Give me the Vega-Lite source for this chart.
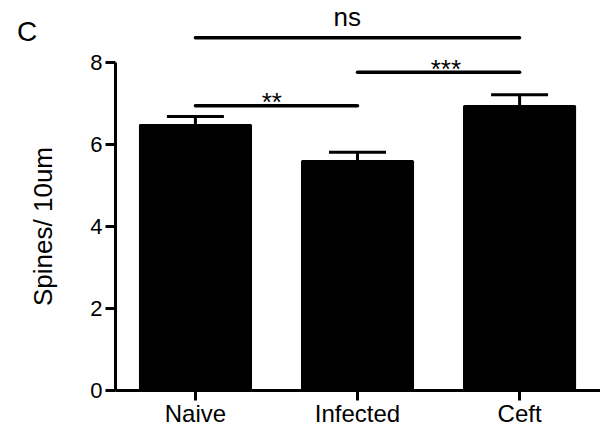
{
  "$schema": "https://vega.github.io/schema/vega-lite/v6.json",
  "width": 485,
  "height": 328,
  "autosize": "none",
  "padding": {"left": 115, "top": 62, "right": 0, "bottom": 43},
  "background": "white",
  "title": {"text": "C", "anchor": "start", "frame": "group", "dx": -98, "dy": 27, "fontSize": 28, "fontWeight": "normal", "font": "Liberation Sans", "color": "black", "offset": -37, "baseline": "alphabetic"},
  "config": {
    "view": {"stroke": null},
    "font": "Liberation Sans",
    "axis": {"domainColor": "black", "tickColor": "black", "labelColor": "black", "titleColor": "black", "domainWidth": 3, "tickWidth": 3, "tickSize": 10, "grid": false, "labelFont": "Liberation Sans", "titleFont": "Liberation Sans"}
  },
  "datasets": {
    "bars": [
      {"group": "Naive", "mean": 6.49, "upper": 6.67},
      {"group": "Infected", "mean": 5.61, "upper": 5.8},
      {"group": "Ceft", "mean": 6.95, "upper": 7.2}
    ],
    "sig": [
      {"from": "Naive", "to": "Ceft", "level": 8.59, "label": "ns", "labelAt": "Infected", "labelY": 8.88},
      {"from": "Infected", "to": "Ceft", "level": 7.75, "label": "***", "labelAt": "Infected", "labelY": 7.61},
      {"from": "Naive", "to": "Infected", "level": 6.93, "label": "**", "labelAt": "Naive", "labelY": 6.8}
    ]
  },
  "encoding": {
    "x": {"field": "group", "type": "nominal", "sort": ["Naive", "Infected", "Ceft"],
      "scale": {"domain": ["Naive", "Infected", "Ceft"], "paddingInner": 0.3, "paddingOuter": 0.146},
      "axis": {"title": null, "labelAngle": 0, "labelFontSize": 24, "labelPadding": 2}}
  },
  "layer": [
    {
      "data": {"name": "bars"},
      "mark": {"type": "bar", "color": "black", "cornerRadius": 2},
      "encoding": {
        "y": {"field": "mean", "type": "quantitative", "scale": {"domain": [0, 8], "nice": false},
          "axis": {"values": [0, 2, 4, 6, 8], "title": "Spines/ 10um", "titleFontSize": 26, "titleFontWeight": "normal", "labelFontSize": 22, "labelPadding": 3, "titlePadding": 33}}
      }
    },
    {
      "data": {"name": "bars"},
      "mark": {"type": "rule", "color": "black", "strokeWidth": 3},
      "encoding": {"y": {"field": "mean", "type": "quantitative"}, "y2": {"field": "upper"}}
    },
    {
      "data": {"name": "bars"},
      "mark": {"type": "tick", "color": "black", "thickness": 3, "size": 57, "opacity": 1},
      "encoding": {"y": {"field": "upper", "type": "quantitative"}}
    },
    {
      "data": {"name": "sig"},
      "mark": {"type": "rule", "color": "black", "strokeWidth": 3.5, "strokeCap": "round"},
      "encoding": {
        "x": {"field": "from", "type": "nominal", "bandPosition": 0.5},
        "x2": {"field": "to", "bandPosition": 0.5},
        "y": {"field": "level", "type": "quantitative"}
      }
    },
    {
      "data": {"name": "sig"},
      "transform": [{"filter": "datum.label == 'ns'"}],
      "mark": {"type": "text", "color": "black", "fontSize": 26, "baseline": "alphabetic", "align": "center"},
      "encoding": {
        "x": {"field": "labelAt", "type": "nominal", "bandPosition": 0.41},
        "y": {"field": "labelY", "type": "quantitative"},
        "text": {"field": "label"}
      }
    },
    {
      "data": {"name": "sig"},
      "transform": [{"filter": "datum.label == '**'"}],
      "mark": {"type": "text", "color": "black", "fontSize": 26, "baseline": "alphabetic", "align": "center"},
      "encoding": {
        "x": {"field": "labelAt", "type": "nominal", "bandPosition": 1.174},
        "y": {"field": "labelY", "type": "quantitative"},
        "text": {"field": "label"}
      }
    },
    {
      "data": {"name": "sig"},
      "transform": [{"filter": "datum.label == '***'"}],
      "mark": {"type": "text", "color": "black", "fontSize": 26, "baseline": "alphabetic", "align": "center"},
      "encoding": {
        "x": {"field": "labelAt", "type": "nominal", "bandPosition": 1.279},
        "y": {"field": "labelY", "type": "quantitative"},
        "text": {"field": "label"}
      }
    }
  ]
}
